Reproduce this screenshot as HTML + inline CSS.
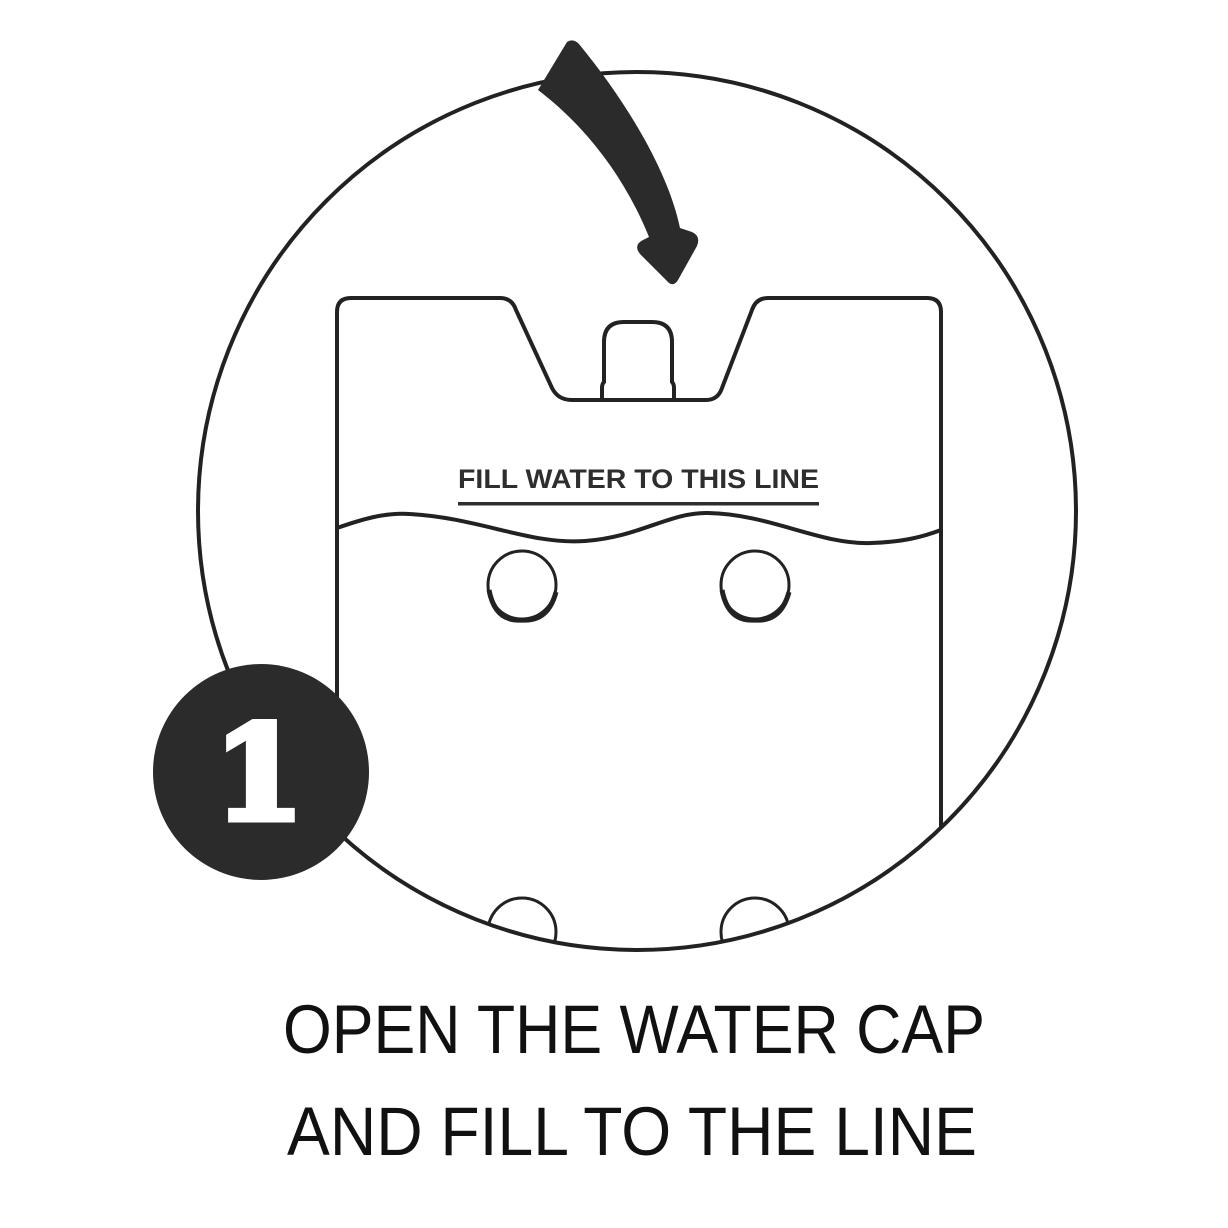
<!DOCTYPE html>
<html><head><meta charset="utf-8"><style>html,body{margin:0;padding:0;background:#fff}svg{display:block}</style></head>
<body>
<svg width="1228" height="1228" viewBox="0 0 1228 1228" xmlns="http://www.w3.org/2000/svg">
<defs>
<clipPath id="c"><circle cx="637" cy="511" r="439"/></clipPath>
</defs>
<rect width="1228" height="1228" fill="#fff"/>
<g clip-path="url(#c)" fill="none" stroke="#222" stroke-width="4">
<path d="M337 1000 V312 Q337 298 351 298 H500 Q512 298 516 310 L552 388 Q558 400 572 400 H706 Q718 400 722 388 L752 310 Q756 298 768 298 H927 Q941 298 941 312 V1000"/>
<path d="M602 400 V388 Q602 384 604 382 V342 Q604 322 624 322 H652 Q672 322 672 342 V382 Q674 384 674 388 V400"/>
<path d="M337 528 C360 520 385 512 410 514 C480 518 530 545 585 541 C640 537 670 512 708 513 C770 514 820 545 871 543 C905 542 925 536 941 530"/>
<ellipse cx="522" cy="585" rx="34" ry="34" stroke-width="3"/>
<path d="M489 590 Q495 622 522 620 Q548 622 556 592" stroke-width="5"/>
<ellipse cx="755" cy="585" rx="34" ry="34" stroke-width="3"/>
<path d="M722 590 Q728 622 755 620 Q781 622 789 592" stroke-width="5"/>
<ellipse cx="522" cy="932" rx="34" ry="34" stroke-width="3"/>
<ellipse cx="755" cy="932" rx="34" ry="34" stroke-width="3"/>
</g>
<circle cx="637" cy="511" r="439" fill="none" stroke="#222" stroke-width="4"/>
<path d="M567 42 Q573 38 579 44 C625 100 668 170 680 228 L692 232 Q701 236 697 246 L678 280 Q673 288 667 281 L640 254 Q633 245 643 240 L649 237 C626 180 588 128 538 90 Z" fill="#2b2b2b"/>
<text x="458" y="488" font-family="Liberation Sans, sans-serif" font-weight="bold" font-size="27" fill="#2e2e2e" textLength="361" lengthAdjust="spacingAndGlyphs">FILL WATER TO THIS LINE</text>
<rect x="458" y="502" width="361" height="3.5" fill="#2e2e2e"/>
<circle cx="261" cy="772" r="108" fill="#2b2b2b"/>
<text x="259" y="819" text-anchor="middle" font-family="DejaVu Serif, serif" font-weight="bold" font-size="130" fill="#fff" stroke="#fff" stroke-width="7" stroke-linejoin="miter">1</text>
<text x="283" y="1053" font-family="Liberation Sans, sans-serif" font-size="69" fill="#111" textLength="702" lengthAdjust="spacingAndGlyphs">OPEN THE WATER CAP</text>
<text x="287" y="1155" font-family="Liberation Sans, sans-serif" font-size="69" fill="#111" textLength="690" lengthAdjust="spacingAndGlyphs">AND FILL TO THE LINE</text>
</svg>
</body></html>
